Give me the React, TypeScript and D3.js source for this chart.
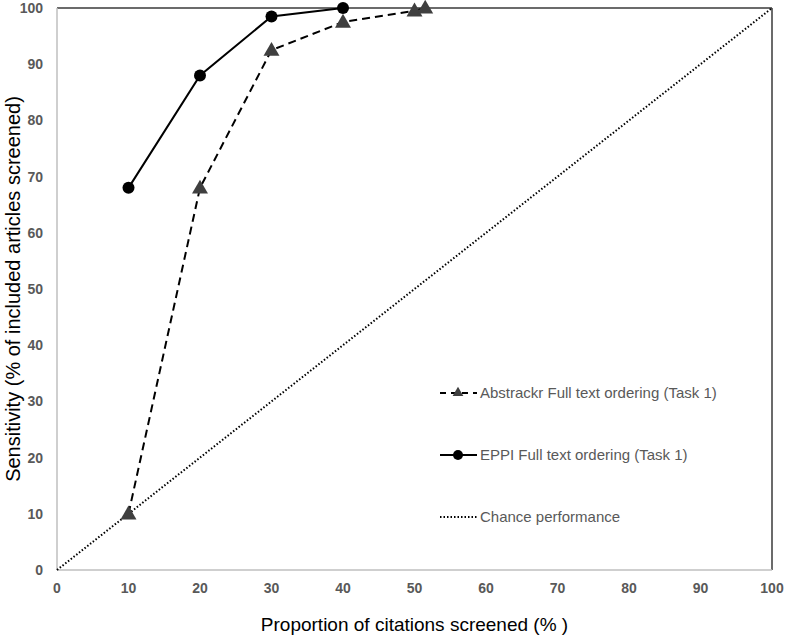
import {useEffect, useRef} from 'react';
import * as d3 from 'd3';

// data
const xTicks = [0, 10, 20, 30, 40, 50, 60, 70, 80, 90, 100];
const yTicks = [0, 10, 20, 30, 40, 50, 60, 70, 80, 90, 100];
const abstrackrX = [10, 20, 30, 40, 50, 51.5];
const abstrackrY = [10, 68, 92.5, 97.5, 99.5, 100];
const eppiX = [10, 20, 30, 40];
const eppiY = [68, 88, 98.5, 100];
const chanceX = [0, 100];
const chanceY = [0, 100];
const legendLabels = [
  'Abstrackr Full text ordering (Task 1)',
  'EPPI Full text ordering (Task 1)',
  'Chance performance'
];

// parameters
const width = 787;
const height = 638;
const margin = {left: 57, right: 15, top: 8, bottom: 68};
const font = '"Liberation Sans", Arial, sans-serif';
const gray = '#595959';

export default function App() {
  const ref = useRef(null);
  useEffect(() => {
    if (!ref.current) return;
    const svg = d3.select(ref.current);
    svg.selectAll('*').remove();

    const x = d3.scaleLinear().domain([0, 100]).range([margin.left, width - margin.right]);
    const y = d3.scaleLinear().domain([0, 100]).range([height - margin.bottom, margin.top]);

    // plot frame: top and right dark, axes gray
    svg.append('line')
      .attr('x1', x(0)).attr('x2', x(100)).attr('y1', y(100)).attr('y2', y(100))
      .attr('stroke', '#3a3a3a').attr('stroke-width', 1.5);
    svg.append('line')
      .attr('x1', x(100)).attr('x2', x(100)).attr('y1', y(100)).attr('y2', y(0))
      .attr('stroke', '#3a3a3a').attr('stroke-width', 1.5);
    svg.append('line')
      .attr('x1', x(0)).attr('x2', x(0)).attr('y1', y(100)).attr('y2', y(0))
      .attr('stroke', '#bfbfbf').attr('stroke-width', 1.5);
    svg.append('line')
      .attr('x1', x(0)).attr('x2', x(100)).attr('y1', y(0)).attr('y2', y(0))
      .attr('stroke', '#bfbfbf').attr('stroke-width', 1.5);

    // tick labels
    svg.append('g')
      .selectAll('text')
      .data(xTicks)
      .enter()
      .append('text')
      .attr('x', d => x(d))
      .attr('y', y(0) + 23)
      .attr('text-anchor', 'middle')
      .attr('font-family', font)
      .attr('font-weight', 'bold')
      .attr('font-size', 14)
      .attr('fill', gray)
      .text(d => d);
    svg.append('g')
      .selectAll('text')
      .data(yTicks)
      .enter()
      .append('text')
      .attr('x', 43)
      .attr('y', d => y(d) + 5)
      .attr('text-anchor', 'end')
      .attr('font-family', font)
      .attr('font-weight', 'bold')
      .attr('font-size', 14)
      .attr('fill', gray)
      .text(d => d);

    // axis titles
    svg.append('text')
      .attr('x', (x(0) + x(100)) / 2)
      .attr('y', 631)
      .attr('text-anchor', 'middle')
      .attr('font-family', font)
      .attr('font-size', 19)
      .attr('fill', '#000')
      .text('Proportion of citations screened (% )');
    svg.append('text')
      .attr('transform', `translate(20,${(y(0) + y(100)) / 2}) rotate(-90)`)
      .attr('text-anchor', 'middle')
      .attr('font-family', font)
      .attr('font-size', 20)
      .attr('fill', '#000')
      .text('Sensitivity (% of included articles screened)');

    const line = d3.line<[number, number]>()
      .x(d => x(d[0]))
      .y(d => y(d[1]));

    // chance
    svg.append('path')
      .attr('d', line(chanceX.map((v, i) => [v, chanceY[i]])))
      .attr('stroke', '#000').attr('stroke-width', 2)
      .attr('stroke-dasharray', '1.5,2')
      .attr('fill', 'none');

    // abstrackr
    const absPts = abstrackrX.map((v, i) => [v, abstrackrY[i]] as [number, number]);
    svg.append('path')
      .attr('d', line(absPts))
      .attr('stroke', '#000').attr('stroke-width', 2)
      .attr('stroke-dasharray', '8,5')
      .attr('fill', 'none');
    const tri = d3.symbol().type(d3.symbolTriangle).size(110);
    svg.append('g')
      .selectAll('path')
      .data(absPts)
      .enter()
      .append('path')
      .attr('d', tri())
      .attr('transform', d => `translate(${x(d[0])},${y(d[1]) + 1})`)
      .attr('fill', '#3f3f3f');

    // eppi
    const eppiPts = eppiX.map((v, i) => [v, eppiY[i]] as [number, number]);
    svg.append('path')
      .attr('d', line(eppiPts))
      .attr('stroke', '#000').attr('stroke-width', 2)
      .attr('fill', 'none');
    svg.append('g')
      .selectAll('circle')
      .data(eppiPts)
      .enter()
      .append('circle')
      .attr('cx', d => x(d[0]))
      .attr('cy', d => y(d[1]))
      .attr('r', 6)
      .attr('fill', '#000');

    // legend
    const legendY = [393, 455, 517];
    const lx0 = 440, lx1 = 477, lmid = 458;
    const leg = svg.append('g');
    leg.append('line')
      .attr('x1', lx0).attr('x2', lx1).attr('y1', legendY[0]).attr('y2', legendY[0])
      .attr('stroke', '#000').attr('stroke-width', 2).attr('stroke-dasharray', '6,5');
    leg.append('path')
      .attr('d', d3.symbol().type(d3.symbolTriangle).size(50)())
      .attr('transform', `translate(${lmid},${legendY[0]})`)
      .attr('fill', '#3f3f3f');
    leg.append('line')
      .attr('x1', lx0).attr('x2', lx1).attr('y1', legendY[1]).attr('y2', legendY[1])
      .attr('stroke', '#000').attr('stroke-width', 2);
    leg.append('circle')
      .attr('cx', lmid).attr('cy', legendY[1]).attr('r', 5)
      .attr('fill', '#000');
    leg.append('line')
      .attr('x1', lx0).attr('x2', lx1).attr('y1', legendY[2]).attr('y2', legendY[2])
      .attr('stroke', '#000').attr('stroke-width', 2).attr('stroke-dasharray', '1.5,2');
    leg.selectAll('text')
      .data(legendLabels)
      .enter()
      .append('text')
      .attr('x', 480)
      .attr('y', (d, i) => legendY[i] + 5)
      .attr('font-family', font)
      .attr('font-size', 15)
      .attr('fill', gray)
      .text(d => d);
  }, [ref]);
  return <svg
    ref={ref}
    width={width}
    height={height}
    style={{position: 'absolute', left: 0, top: 0, background: '#fff'}}
  />;
}
